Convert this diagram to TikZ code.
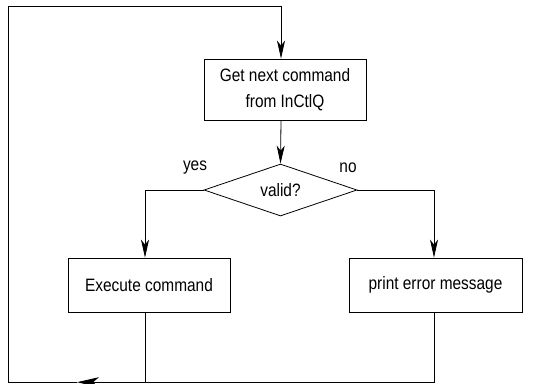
\documentclass[tikz,border=0pt]{standalone}
\usepackage{fontspec}
\setmainfont[FakeStretch=0.86]{Liberation Sans}
\usetikzlibrary{arrows.meta,shapes.geometric}
\begin{document}
\begin{tikzpicture}[x=1bp,y=-1bp,
  every node/.style={font=\fontsize{18}{26}\selectfont},
  procbox/.style={draw,line width=0.8bp,inner sep=0,align=center},
  decision/.style={draw,diamond,line width=0.8bp,inner sep=0,shape aspect=3,
    minimum width=153bp,minimum height=52bp},
  flow/.style={line width=0.8bp},
  arr/.style={flow,-{Stealth[length=18bp,width=8bp,inset=5bp]}},
  backarr/.style={flow,-{Stealth[length=22bp,width=10bp,inset=6bp]}}]
\useasboundingbox (0,0) rectangle (537,383);
\clip (0,0) rectangle (537,383);
% process boxes
\node[procbox,minimum width=162bp,minimum height=61bp] (get) at (285,89.5)
  {Get next command\\from InCtlQ};
\node[decision] (valid) at (280.5,190) {valid?};
\node[procbox,minimum width=162bp,minimum height=54bp] (exec) at (149,285)
  {Execute command};
\node[procbox,minimum width=173bp,minimum height=54bp] (err) at (435.5,285)
  {print error message};
% branch labels
\node (yes) at (195,167.5) {yes};
\node (no) at (348,168) {no};
% helper points of the loop
\coordinate (spine) at (281,0);
\coordinate (lbr) at (145,0);
\coordinate (rbr) at (434,0);
\coordinate (bot) at (0,382.2);
\coordinate (tip) at (77,382.2);
\coordinate (corner) at (8,382.2);
\coordinate (topl) at (8,6);
% connectors
\draw[arr] (get.south -| spine) -- (valid.north);
\draw[arr] (valid.west) -| (exec.north -| lbr);
\draw[arr] (valid.east) -| (err.north -| rbr);
\draw[flow] (exec.south -| lbr) -- (bot -| lbr);
\draw[backarr] (err.south -| rbr) -- (bot -| rbr) -- (tip);
\draw[arr] (tip) -- (corner) -- (topl) -| (get.north -| spine);
\end{tikzpicture}
\end{document}
